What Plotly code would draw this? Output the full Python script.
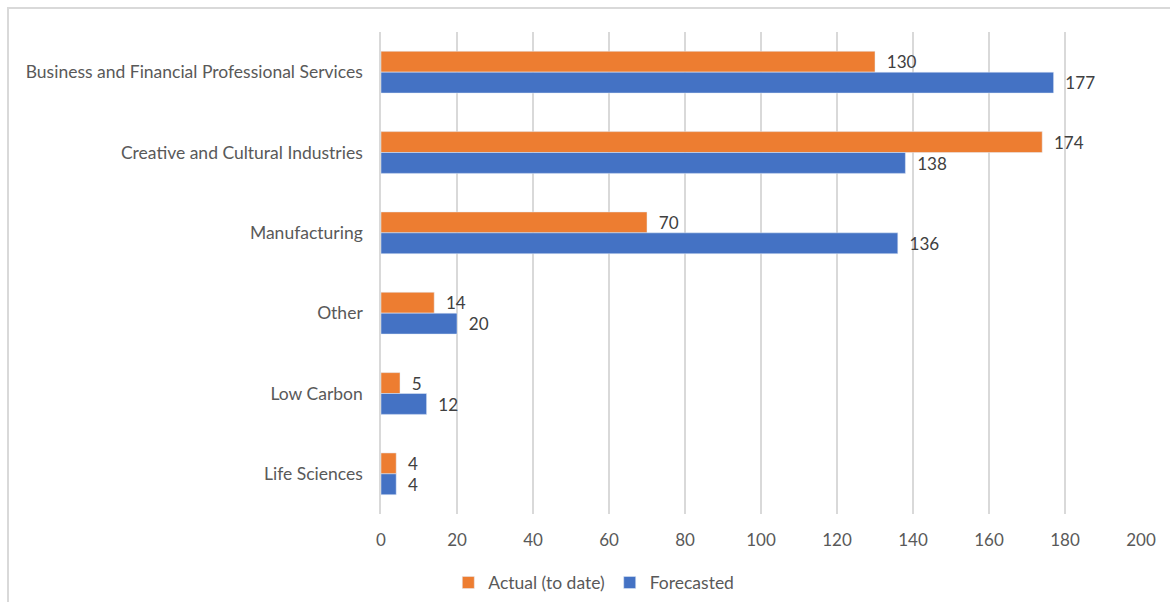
import plotly.graph_objects as go

# Sectors listed top to bottom as shown on the chart
sectors = [
    "Business and Financial Professional Services",
    "Creative and Cultural Industries",
    "Manufacturing",
    "Other",
    "Low Carbon",
    "Life Sciences",
]
actual_to_date = [130, 174, 70, 14, 5, 4]
forecasted = [177, 138, 136, 20, 12, 4]
x_ticks = [0, 20, 40, 60, 80, 100, 120, 140, 160, 180, 200]

FONT = "Lato, Calibri, sans-serif"
ORANGE = "#ED7D31"
BLUE = "#4472C4"

fig = go.Figure()
fig.add_trace(go.Bar(
    name="Actual (to date)", y=sectors, x=actual_to_date, orientation="h",
    marker=dict(color=ORANGE), text=actual_to_date,
    texttemplate="  %{x}", textposition="outside", cliponaxis=False,
    textfont=dict(size=18, color="#404040", family=FONT),
))
fig.add_trace(go.Bar(
    name="Forecasted", y=sectors, x=forecasted, orientation="h",
    marker=dict(color=BLUE), text=forecasted,
    texttemplate="  %{x}", textposition="outside", cliponaxis=False,
    textfont=dict(size=18, color="#404040", family=FONT),
))

fig.update_layout(
    width=1170, height=602,
    barmode="group", bargap=0.48, bargroupgap=0,
    plot_bgcolor="white", paper_bgcolor="white",
    margin=dict(l=381, r=29, t=32, b=88, autoexpand=False),
    font=dict(family=FONT, size=17, color="#595959"),
    xaxis=dict(
        range=[0, 200], tickvals=x_ticks, showgrid=True,
        gridcolor="#d9d9d9", gridwidth=1.5, zeroline=False, showline=False,
        tickfont=dict(size=17, color="#595959"), ticklabelstandoff=14,
        automargin=False, fixedrange=True,
    ),
    yaxis=dict(
        categoryorder="array", categoryarray=sectors, autorange="reversed",
        showline=True, linecolor="#d9d9d9", linewidth=1.5, showgrid=False,
        ticks="", tickfont=dict(size=17.5, color="#595959"),
        ticklabelstandoff=13, automargin=False,
    ),
    legend=dict(
        orientation="h", x=0.28, xanchor="center", y=-0.105, yanchor="top",
        font=dict(size=17.5, color="#595959"), itemwidth=30,
        traceorder="normal",
    ),
    showlegend=True,
)

# Chart frame (top and left edges visible)
fig.add_shape(type="rect", xref="paper", yref="paper",
              x0=-381 / 760 + 8 / 760, x1=1.2, y0=-0.5, y1=1 + 24 / 482,
              line=dict(color="#d9d9d9", width=2), layer="below")

fig.write_html("out.html")
